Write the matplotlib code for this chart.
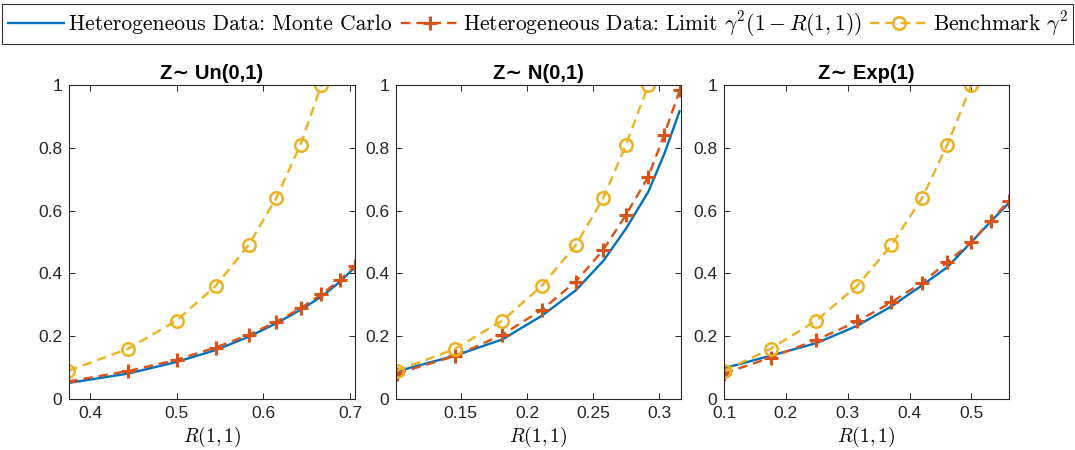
import matplotlib.pyplot as plt
import numpy as np

# --- data ---
# R(1,1) values for each panel (10 values of gamma, 0.3 .. 1.2)
r_unif = [0.375, 0.444, 0.500, 0.545, 0.583, 0.615, 0.643, 0.667, 0.688, 0.706]
r_norm = [0.1017, 0.1457, 0.1815, 0.2112, 0.2369, 0.2577, 0.2749, 0.2917, 0.3037, 0.3156]
r_expo = [0.100, 0.1755, 0.2493, 0.3151, 0.3706, 0.4202, 0.4612, 0.500, 0.5313, 0.5609]

# Monte Carlo curves
mc_unif = [0.051, 0.081, 0.118, 0.156, 0.198, 0.241, 0.284, 0.326, 0.372, 0.420]
mc_norm = [0.088, 0.138, 0.190, 0.265, 0.346, 0.440, 0.543, 0.660, 0.780, 0.920]
mc_expo = [0.098, 0.138, 0.178, 0.233, 0.295, 0.362, 0.420, 0.500, 0.565, 0.625]

# limit gamma^2 (1 - R(1,1))
lim_unif = [0.056, 0.089, 0.125, 0.164, 0.204, 0.246, 0.289, 0.333, 0.378, 0.424]
lim_norm = [0.081, 0.137, 0.205, 0.284, 0.374, 0.475, 0.587, 0.708, 0.842, 0.985]
lim_expo = [0.081, 0.132, 0.188, 0.247, 0.308, 0.371, 0.436, 0.500, 0.567, 0.632]

# benchmark gamma^2 (only first 8 gammas, up to 1)
bench = [0.09, 0.16, 0.25, 0.36, 0.49, 0.64, 0.81, 1.00]

titles = ["Z\u223c Un(0,1)", "Z\u223c N(0,1)", "Z\u223c Exp(1)"]
xlims = [(0.3758, 0.7058), (0.1011, 0.3164), (0.1, 0.5608)]
xticks = [[0.4, 0.5, 0.6, 0.7], [0.15, 0.2, 0.25, 0.3], [0.1, 0.2, 0.3, 0.4, 0.5]]
xticklabels = [["0.4", "0.5", "0.6", "0.7"], ["0.15", "0.2", "0.25", "0.3"],
               ["0.1", "0.2", "0.3", "0.4", "0.5"]]
yticks = [0, 0.2, 0.4, 0.6, 0.8, 1]
yticklabels = ["0", "0.2", "0.4", "0.6", "0.8", "1"]

BLUE, RED, YEL = "#0072BD", "#D95319", "#EDB120"
DARK = "#262626"

plt.rcParams["mathtext.fontset"] = "cm"
plt.rcParams["font.family"] = ["Liberation Sans", "DejaVu Sans"]

fig = plt.figure(figsize=(10.75, 4.5), dpi=100)
lefts = [0.0642, 0.3684, 0.6735]
widths = [0.266, 0.2651, 0.2651]

panels = [(r_unif, mc_unif, lim_unif), (r_norm, mc_norm, lim_norm), (r_expo, mc_expo, lim_expo)]
handles = None
for i, (r, mc, lim) in enumerate(panels):
    ax = fig.add_axes([lefts[i], 0.1133, widths[i], 0.6978])
    h1, = ax.plot(r, mc, color=BLUE, lw=1.7, solid_capstyle="butt")
    h2, = ax.plot(r, lim, color=RED, lw=1.7, ls=(0, (4, 2.5)), marker="+",
                  ms=10, mew=2.2)
    h3, = ax.plot(r[:8], bench, color=YEL, lw=1.7, ls=(0, (4, 2.5)), marker="o",
                  ms=9, mfc="none", mew=1.8)
    handles = [h1, h2, h3]
    ax.set_xlim(*xlims[i])
    ax.set_ylim(0, 1)
    ax.set_xticks(xticks[i])
    ax.set_xticklabels(xticklabels[i])
    ax.set_yticks(yticks)
    ax.set_yticklabels(yticklabels)
    ax.tick_params(direction="in", top=True, right=True, length=4, width=0.7,
                   colors=DARK, labelsize=12.5, pad=5)
    for s in ax.spines.values():
        s.set_color(DARK)
        s.set_linewidth(0.8)
    ax.set_title(titles[i], fontsize=14.5, fontweight="bold", pad=4)
    ax.set_xlabel(r"$R(1,1)$", fontsize=14, labelpad=3)

labels = ["Heterogeneous Data: Monte Carlo",
          r"Heterogeneous Data: Limit $\gamma^2(1-R(1,1))$",
          r"Benchmark $\gamma^2$"]
leg = fig.legend(handles, labels, ncol=3, loc="center",
                 bbox_to_anchor=(0.5, 0.947),
                 prop={"family": "cmr10", "size": 15.5}, frameon=True,
                 fancybox=False, edgecolor="black", handlelength=2.7,
                 handletextpad=0.2, columnspacing=0.4, borderpad=0.25,
                 borderaxespad=0)
leg.get_frame().set_linewidth(0.8)

fig.savefig("out.png", dpi=100)
